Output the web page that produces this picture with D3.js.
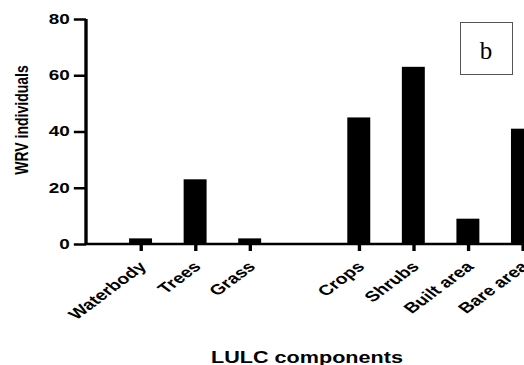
<!DOCTYPE html>
<html lang="en">
<head>
  <meta charset="UTF-8">
  <title>WRV individuals by LULC</title>
  <script src="https://d3js.org/d3.v7.min.js"></script>
  <style>
    body, html { margin: 0; padding: 0; background: #fff; overflow: hidden; }
  </style>
</head>
<body>
<script>
  // data
  const groupA = ["Waterbody", "Trees", "Grass"];
  const groupB = ["Crops", "Shrubs", "Built area", "Bare area"];
  const categories = groupA.concat(groupB);
  const values = [2, 23, 2, 45, 63, 9, 41];
  const yTicks = [0, 20, 40, 60, 80];

  const W = 524, H = 365;
  // the original figure is stretched sideways, so draw narrow and scale x
  const sx = 1.35;

  const svg = d3.select("body").append("svg")
    .attr("width", W)
    .attr("height", H);

  const g = svg.append("g").attr("transform", `scale(${sx},1)`);

  const left = 86 / sx;
  const x = d3.scalePoint()
    .domain(groupA.concat(["gap"], groupB))
    .range([left, 577 / sx])
    .padding(1);

  const y = d3.scaleLinear().domain([0, 80]).range([244, 19]);

  // bars
  g.selectAll("rect.bar")
    .data(categories)
    .enter().append("rect")
    .attr("class", "bar")
    .attr("x", d => x(d) - 8.5)
    .attr("width", 17)
    .attr("y", (d, i) => y(values[i]))
    .attr("height", (d, i) => y(0) - y(values[i]))
    .attr("fill", "#000");

  // y axis
  const yAxis = g.append("g")
    .attr("transform", `translate(${left},0)`)
    .call(d3.axisLeft(y).tickValues(yTicks).tickSize(9).tickPadding(3));
  yAxis.select(".domain").attr("stroke-width", 2.5).attr("d", `M0,${y(80)}V${y(0)}`);
  yAxis.selectAll(".tick line").attr("stroke-width", 2.5);
  yAxis.selectAll(".tick text")
    .attr("font-family", "Liberation Sans, Arial, sans-serif")
    .attr("font-weight", "bold")
    .attr("font-size", 14)
    .attr("fill", "#000");

  // x axis
  const xAxis = g.append("g")
    .attr("transform", `translate(0,${y(0)})`)
    .call(d3.axisBottom(x).tickValues(categories).tickSize(7));
  xAxis.select(".domain").attr("stroke-width", 2.5).attr("d", `M${left},0H${W / sx}`);
  xAxis.selectAll(".tick line").attr("stroke-width", 2.5);
  xAxis.selectAll(".tick text")
    .attr("font-family", "Liberation Sans, Arial, sans-serif")
    .attr("font-weight", "bold")
    .attr("font-size", 14.5)
    .attr("fill", "#000")
    .attr("text-anchor", "end")
    .attr("x", 0)
    .attr("y", 0)
    .attr("dy", "0.35em")
    .attr("transform", "translate(1,20) rotate(-45)");

  // axis titles
  g.append("text")
    .attr("transform", `translate(${28 / sx},120) rotate(-90)`)
    .attr("text-anchor", "middle")
    .attr("font-family", "Liberation Sans, Arial, sans-serif")
    .attr("font-weight", "bold")
    .attr("font-size", 14)
    .text("WRV individuals");

  g.append("text")
    .attr("x", 307 / sx)
    .attr("y", 363)
    .attr("text-anchor", "middle")
    .attr("font-family", "Liberation Sans, Arial, sans-serif")
    .attr("font-weight", "bold")
    .attr("font-size", 16)
    .text("LULC components");

  // panel letter
  svg.append("rect")
    .attr("x", 460.5).attr("y", 22.5)
    .attr("width", 52).attr("height", 52)
    .attr("fill", "#fff")
    .attr("stroke", "#555")
    .attr("stroke-width", 1);
  svg.append("text")
    .attr("x", 486).attr("y", 59)
    .attr("text-anchor", "middle")
    .attr("font-family", "Liberation Serif, Times New Roman, serif")
    .attr("font-size", 25)
    .text("b");
</script>
</body>
</html>
